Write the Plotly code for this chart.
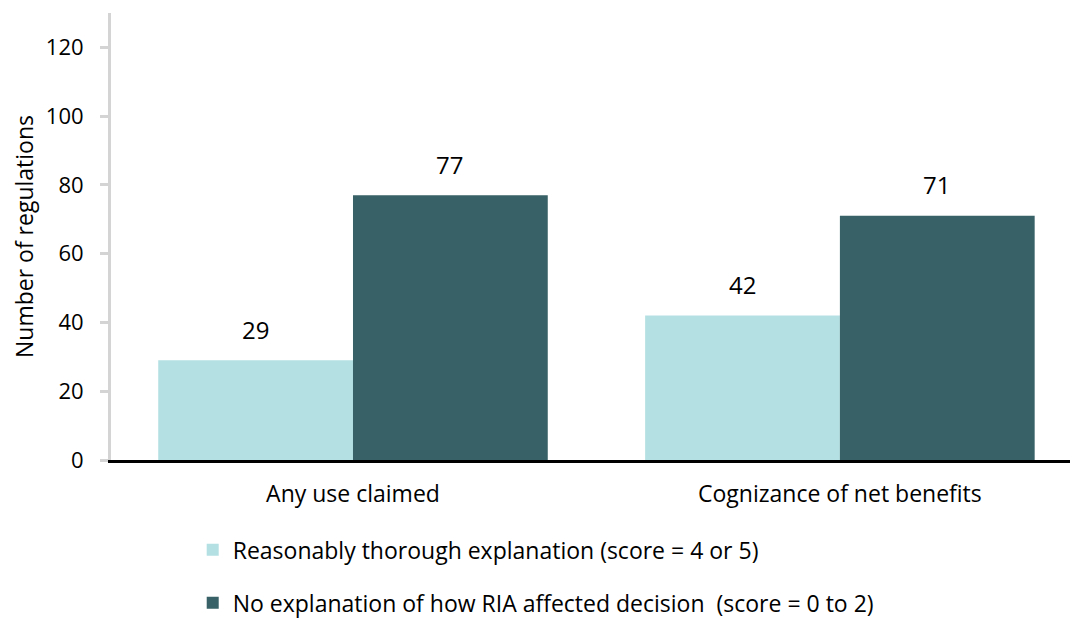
import plotly.graph_objects as go

categories = ["Any use claimed", "Cognizance of net benefits"]
series_names = [
    "Reasonably thorough explanation (score = 4 or 5)",
    "No explanation of how RIA affected decision  (score = 0 to 2)",
]
thorough = [29, 42]
no_explanation = [77, 71]
colors = ["#b4e0e3", "#376166"]
y_ticks = [0, 20, 40, 60, 80, 100, 120]

FONT = "Open Sans, Carlito, Calibri, sans-serif"

fig = go.Figure()
for i, (name, vals) in enumerate(zip(series_names, [thorough, no_explanation])):
    fig.add_trace(go.Bar(
        x=categories, y=vals, name=name,
        marker=dict(color=colors[i], line=dict(width=0)),
        legendgroup=f"g{i}",
    ))

# data labels above bars
offsets = [-97, 97]
for i, vals in enumerate([thorough, no_explanation]):
    for c, v in zip(categories, vals):
        fig.add_annotation(x=c, y=v, text=str(v), showarrow=False,
                           xshift=offsets[i], yshift=31,
                           font=dict(family=FONT, size=24, color="#000"))

fig.update_layout(
    width=1070, height=620,
    margin=dict(l=103, r=0, t=5, b=168, autoexpand=False),
    paper_bgcolor="white", plot_bgcolor="white",
    barmode="group", bargap=0.2, bargroupgap=0,
    font=dict(family=FONT, size=22, color="#000"),
    showlegend=True,
    legend=dict(orientation="v", x=0.0845, xanchor="left", y=-0.153, yanchor="top",
                tracegroupgap=20, font=dict(family=FONT, size=23, color="#000"),
                bgcolor="rgba(0,0,0,0)"),
    xaxis=dict(range=[-0.497, 1.489], showline=True, linecolor="#000", linewidth=3,
               ticks="", showgrid=False, zeroline=False, ticklabelstandoff=11,
               automargin=False, tickfont=dict(family=FONT, size=23)),
    yaxis=dict(range=[0, 130], tickvals=y_ticks, showline=True, linecolor="#d4d4d4",
               linewidth=3, ticks="outside", ticklen=8, tickcolor="#d4d4d4", tickwidth=3,
               showgrid=False, zeroline=False, ticklabelstandoff=12, automargin=False,
               tickfont=dict(family=FONT, size=22),
               title=dict(text="Number of regulations", standoff=22,
                          font=dict(family=FONT, size=23))),
)

fig.write_html("out.html")
